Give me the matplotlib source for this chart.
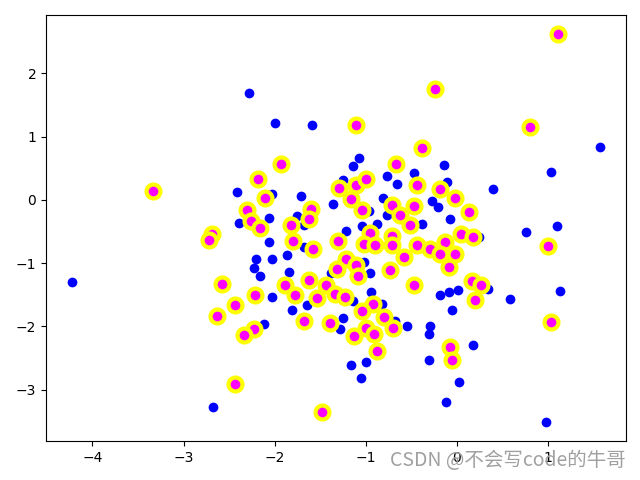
import matplotlib.pyplot as plt

# points drawn only in blue
blue_x = [-2.28, -2.00, -1.59, -1.07, 1.57, -2.41, -2.39, -4.22, -1.14, -0.77,
          -0.47, -0.66, -1.25, -2.03, -1.71, -1.36, -0.81, -0.27, -0.20, -2.06,
          -1.75, -1.68, -0.96, -0.77, -0.38, -1.04, -0.87, -1.21, -2.06, -1.68,
          -1.86, -2.20, -2.03, -2.23, -2.16, -1.84, -1.02, -1.38, -0.95, -2.03,
          -0.94, -1.14, -0.82, -1.81, -1.64, -0.68, -0.55, -1.25, -1.28, -1.16,
          -0.99, -1.05, -2.12, -0.29, -0.30, -0.30, -2.68, 0.59, 1.14, -0.05,
          0.18, 0.03, -0.12, 0.98, -0.14, 1.04, -0.11, 0.40, -0.07, 0.76,
          1.10, 0.25, 0.35, 0.01, -0.08, -0.18]
blue_y = [1.69, 1.21, 1.18, 0.66, 0.83, 0.12, -0.37, -1.30, 0.54, 0.37,
          0.42, 0.25, 0.32, 0.09, 0.06, -0.07, 0.03, -0.02, -0.11, -0.29,
          -0.25, -0.39, -0.18, -0.24, -0.38, -0.42, -0.38, -0.50, -0.67, -0.74,
          -0.87, -0.93, -0.93, -1.08, -1.20, -1.14, -0.98, -1.16, -1.16, -1.53,
          -1.45, -1.60, -1.65, -1.75, -1.67, -1.92, -1.99, -1.87, -2.04, -2.62,
          -2.56, -2.82, -1.96, -2.00, -2.12, -2.54, -3.27, -1.57, -1.44, -1.74,
          -2.29, -2.88, -3.20, -3.51, 0.55, 0.44, 0.29, 0.17, -0.30, -0.51,
          -0.41, -0.58, -1.41, -1.42, -1.46, -1.50]

# highlighted points (magenta with yellow ring)
sel_x = [-0.24, -1.11, -0.38, 1.11, 0.81, -3.34, -2.30, -2.69, -2.72, -2.58,
         -1.93, -0.67, -2.18, -1.29, -1.10, -0.99, -0.43, -0.18, -2.10, -1.16,
         -0.71, -0.47, -2.26, -2.16, -1.60, -1.62, -1.82, -1.04, -0.62, -0.51,
         -0.95, -0.71, -1.80, -1.30, -1.02, -0.90, -0.71, -0.44, -0.29, -1.58,
         -1.22, -1.11, -1.31, -1.08, -0.73, -0.58, -0.47, -1.62, -1.88, -1.43,
         -2.21, -1.78, -1.53, -1.34, -1.23, -0.92, -1.04, -0.80, -0.70, -1.68,
         -1.39, -1.13, -0.99, -0.91, -0.88, -1.48, -2.23, -2.34, -2.43, -2.63,
         -2.43, 0.20, 1.04, -0.07, -0.05, -0.02, 0.14, 1.00, 0.05, 0.18,
         -0.13, -0.18, -0.02, -0.08, 0.17, 0.27]
sel_y = [1.76, 1.18, 0.82, 2.62, 1.15, 0.14, -0.16, -0.54, -0.63, -1.33,
         0.56, 0.56, 0.33, 0.19, 0.24, 0.33, 0.23, 0.17, 0.03, 0.02,
         -0.08, -0.09, -0.34, -0.44, -0.14, -0.30, -0.40, -0.16, -0.24, -0.39,
         -0.53, -0.57, -0.65, -0.65, -0.70, -0.72, -0.71, -0.72, -0.77, -0.78,
         -0.93, -1.03, -1.09, -1.21, -1.11, -0.91, -1.35, -1.26, -1.34, -1.35,
         -1.51, -1.50, -1.55, -1.49, -1.53, -1.64, -1.76, -1.85, -2.03, -1.91,
         -1.95, -2.16, -2.03, -2.12, -2.39, -3.35, -2.04, -2.13, -1.67, -1.83,
         -2.92, -1.58, -1.93, -2.33, -2.54, 0.03, -0.19, -0.73, -0.54, -0.58,
         -0.67, -0.85, -0.85, -1.06, -1.29, -1.35]

fig = plt.figure(figsize=(6.4, 4.8), dpi=100)
plt.scatter(blue_x + sel_x, blue_y + sel_y, c='b')
plt.scatter(sel_x, sel_y, facecolor='magenta', edgecolor='yellow', s=100, linewidths=3)
plt.subplots_adjust(left=0.072, right=0.978, top=0.969, bottom=0.081)
# watermark
fig.text(0.977, 0.04, 'CSDN @不会写code的牛哥', ha='right', va='center',
         fontsize=14, color='#a0a0a0', family=['Noto Sans CJK SC', 'DejaVu Sans'])
plt.savefig('out.png')
plt.close()
